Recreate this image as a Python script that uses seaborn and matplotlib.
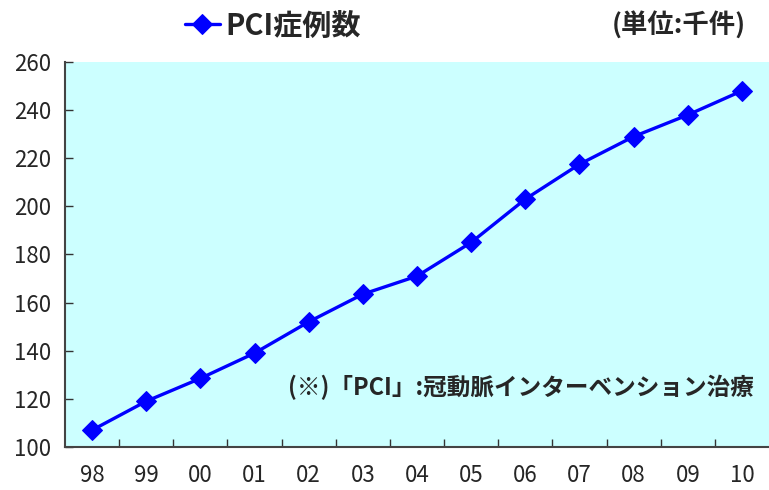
import pandas as pd
import matplotlib.pyplot as plt
import seaborn as sns

# データ (単位: 千件)
years = ['98', '99', '00', '01', '02', '03', '04', '05', '06', '07', '08', '09', '10']
pci_cases = [107, 119, 128.5, 139, 152, 163.5, 171, 185, 203, 217.5, 229, 238, 248]
y_ticks = [100, 120, 140, 160, 180, 200, 220, 240, 260]

dados = pd.DataFrame({'year': years, 'cases': pci_cases})
dados['pos'] = range(len(dados))

sns.set_style('ticks')
plt.rcParams['font.family'] = ['Noto Sans CJK JP', 'DejaVu Sans']

fig = plt.figure(figsize=(7.69, 4.9), dpi=100)
ax = fig.add_axes([0.0845, 0.0878, 0.9155, 0.7857])
ax.set_facecolor('#CCFFFF')

sns.lineplot(data=dados, x='pos', y='cases', ax=ax, color='#0000FF',
             linewidth=2.4, marker='D', markersize=10, markeredgecolor='#0000FF',
             label='PCI症例数')

# 軸の設定
ax.set_xlim(-0.5, len(years) - 0.5)
ax.set_ylim(100, 260)
ax.set_yticks(y_ticks)
ax.set_xticks(dados['pos'])
ax.set_xticklabels(years)
ax.set_xticks([i - 0.5 for i in range(1, len(years))], minor=True)
ax.tick_params(axis='x', which='major', length=0, pad=12, labelsize=16)
ax.tick_params(axis='x', which='minor', direction='in', length=6, width=1, color='#333333')
ax.tick_params(axis='y', direction='in', length=6, width=1, color='#333333', pad=10, labelsize=16)
ax.set_xlabel('')
ax.set_ylabel('')
for lado in ['top', 'right']:
    ax.spines[lado].set_visible(False)
for lado in ['left', 'bottom']:
    ax.spines[lado].set_color('#444444')
    ax.spines[lado].set_linewidth(1.5)

# 凡例と注記
ax.legend(loc='center left', bbox_to_anchor=(0.24, 0.948), bbox_transform=fig.transFigure,
          frameon=False, handlelength=1.2, handletextpad=0.2, borderpad=0, borderaxespad=0,
          prop={'size': 21, 'weight': 'bold'})
fig.text(0.97, 0.948, '(単位:千件)', ha='right', va='center', fontsize=19, fontweight='bold')
ax.text(0.978, 0.155, '(※)「PCI」:冠動脈インターベンション治療', transform=ax.transAxes,
        ha='right', va='center', fontsize=17, fontweight='bold')

plt.savefig('out.png', dpi=100)
